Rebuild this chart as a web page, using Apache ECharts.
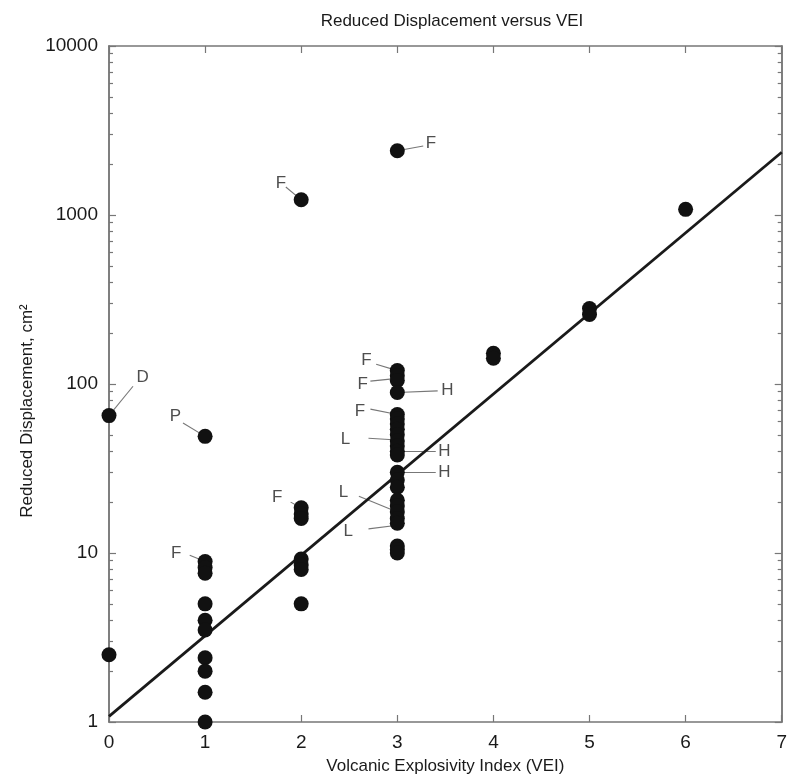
<!DOCTYPE html>
<html>
<head>
<meta charset="utf-8">
<script src="https://cdn.jsdelivr.net/npm/echarts@6/dist/echarts.min.js"></script>
<style>html,body{margin:0;padding:0;background:#fff;}#chart{width:790px;height:780px;}</style>
</head>
<body>
<div id="chart"></div>
<script>
// ---- data ----
const titleText = 'Reduced Displacement versus VEI';
const xName = 'Volcanic Explosivity Index (VEI)';
const yName = 'Reduced Displacement, cm\u00B2';
const veiValues = [0, 1, 2, 3, 4, 5, 6];
const disp0 = [65, 2.5];
const disp1 = [49, 8.9, 8.2, 7.6, 5, 4, 3.5, 2.4, 2, 1.5, 1];
const disp2 = [1230, 18.5, 17, 16, 9.2, 8.5, 8, 5];
const disp3 = [2400, 120, 112, 105, 89, 66, 62, 58, 54, 50, 46, 43, 40, 38, 30, 27, 24.5, 20.5, 19, 17.5, 16, 15, 11, 10.5, 10];
const disp4 = [152, 142];
const disp5 = [280, 258];
const disp6 = [1080];
const fitX = [0, 7];
const fitY = [1.08, 2350];
const yMajorTicks = [1, 10, 100, 1000, 10000];
const xTicks = [0, 1, 2, 3, 4, 5, 6, 7];
// annotations: text, label x, label y, leader start x, y, leader end x, y
const annText = ['D', 'P', 'F', 'F', 'F', 'F', 'F', 'F', 'H', 'F', 'L', 'H', 'H', 'L', 'L'];
const annLabelX = [0.35, 0.69, 0.70, 1.79, 1.75, 3.35, 2.68, 2.64, 3.52, 2.61, 2.46, 3.49, 3.49, 2.44, 2.49];
const annLabelY = [110, 64.7, 10, 1546, 21.4, 2667, 139, 100, 92, 69, 47, 40, 30, 23, 13.5];
const annFromX = [0, 1, 1, 2, 2, 3, 3, 3, 3, 3, 3, 3, 3, 3, 3];
const annFromY = [65, 49, 8.9, 1230, 18.5, 2400, 120, 108, 89, 66, 46.6, 40, 30, 17.5, 14.6];
const annToX = [0.25, 0.77, 0.84, 1.84, 1.89, 3.27, 2.78, 2.72, 3.42, 2.72, 2.70, 3.40, 3.40, 2.60, 2.70];
const annToY = [97, 58.8, 9.7, 1465, 20, 2560, 131, 104, 91, 71, 47.8, 40, 30, 21.7, 13.9];

// ---- build ----
const groups = [disp0, disp1, disp2, disp3, disp4, disp5, disp6];
const points = [];
groups.forEach((g, i) => g.forEach(v => points.push([veiValues[i], v])));
const minorTicks = [];
for (let d = 1; d < 10000; d *= 10) for (let k = 2; k <= 9; k++) minorTicks.push(d * k);

const FONT = '"Liberation Sans", Arial, Helvetica, sans-serif';
const axisGray = '#777';
const gLeft = 109, gRight = 5, gTop = 46, gBottom = 58;

function yAx(pos, labels, ticks, len) {
  return {
    type: 'log', logBase: 10, min: 1, max: 10000, position: pos,
    axisLine: { show: true, onZero: false, lineStyle: { color: axisGray, width: 1.5 } },
    axisTick: { show: true, inside: true, length: len, customValues: ticks, lineStyle: { color: axisGray, width: 1.2 } },
    axisLabel: labels ? { show: true, customValues: yMajorTicks, fontFamily: FONT, fontSize: 19, color: '#1a1a1a', margin: 11, formatter: v => String(Math.round(v)) } : { show: false },
    splitLine: { show: false }
  };
}

const chart = echarts.init(document.getElementById('chart'), null, { renderer: 'canvas' });
chart.setOption({
  backgroundColor: '#fff',
  animation: false,
  title: { text: titleText, left: 447, top: 8, textAlign: 'center', textStyle: { fontFamily: FONT, fontSize: 17, fontWeight: 'normal', color: '#1a1a1a' } },
  grid: { left: gLeft, right: gRight, top: gTop, bottom: gBottom, containLabel: false },
  xAxis: [
    { type: 'value', min: 0, max: 7, interval: 1, position: 'bottom',
      name: xName, nameLocation: 'middle', nameGap: 36,
      nameTextStyle: { fontFamily: FONT, fontSize: 17, color: '#1a1a1a' },
      axisLine: { show: true, onZero: false, lineStyle: { color: axisGray, width: 1.5 } },
      axisTick: { show: true, inside: true, length: 7, lineStyle: { color: axisGray, width: 1.2 } },
      axisLabel: { fontFamily: FONT, fontSize: 19, color: '#1a1a1a', margin: 11 },
      splitLine: { show: false } },
    { type: 'value', min: 0, max: 7, interval: 1, position: 'top',
      axisLine: { show: true, onZero: false, lineStyle: { color: axisGray, width: 1.5 } },
      axisTick: { show: true, inside: true, length: 7, lineStyle: { color: axisGray, width: 1.2 } },
      axisLabel: { show: false }, splitLine: { show: false } }
  ],
  yAxis: [
    yAx('left', true, yMajorTicks, 7),
    yAx('left', false, minorTicks, 4),
    yAx('right', false, yMajorTicks, 7),
    yAx('right', false, minorTicks, 4)
  ],
  graphic: [{
    type: 'text', x: 27, y: 411, rotation: Math.PI / 2,
    style: { text: yName, fontFamily: FONT, fontSize: 17, fill: '#1a1a1a', align: 'center', verticalAlign: 'middle' }
  }],
  series: [
    { type: 'lines', coordinateSystem: 'cartesian2d', xAxisIndex: 0, yAxisIndex: 0, z: 1,
      lineStyle: { color: '#777', width: 1.1, opacity: 1 }, silent: true,
      data: annText.map((t, i) => ({ coords: [[annFromX[i], annFromY[i]], [annToX[i], annToY[i]]] })) },
    { type: 'line', xAxisIndex: 0, yAxisIndex: 0, z: 2, symbol: 'none', silent: true,
      lineStyle: { color: '#1a1a1a', width: 2.8 },
      data: fitX.map((x, i) => [x, fitY[i]]) },
    { type: 'scatter', xAxisIndex: 0, yAxisIndex: 0, z: 3, symbol: 'circle', symbolSize: 15,
      itemStyle: { color: '#111', opacity: 1 }, data: points },
    { type: 'scatter', xAxisIndex: 0, yAxisIndex: 0, z: 4, symbolSize: 0, silent: true,
      label: { show: true, position: 'inside', formatter: p => p.name, fontFamily: FONT, fontSize: 17, color: '#222' },
      data: annText.map((t, i) => ({ name: t, value: [annLabelX[i], annLabelY[i]] })) }
  ]
});
</script>
</body>
</html>
